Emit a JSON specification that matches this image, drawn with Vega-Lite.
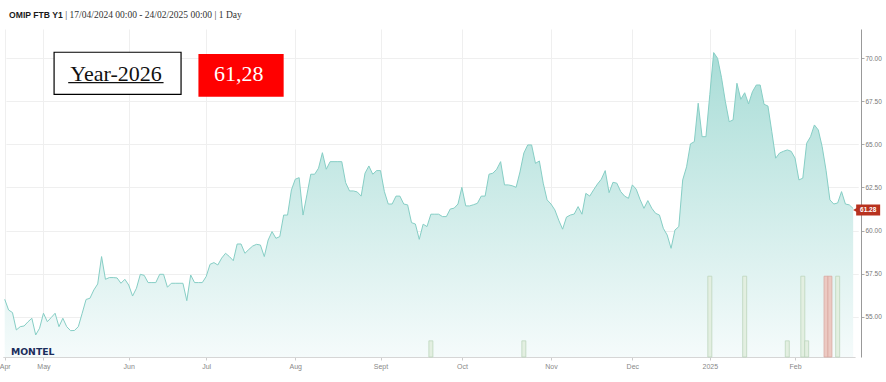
{
  "$schema": "https://vega.github.io/schema/vega-lite/v6.json",
  "width": 861,
  "height": 328,
  "autosize": {"type": "none"},
  "padding": {"left": 0, "top": 29, "right": 25, "bottom": 25},
  "background": "white",
  "config": {"view": {"stroke": null}, "font": "Liberation Sans"},
  "datasets": {
    "prices": [
      {"date": "2024-04-17", "price": 56.01}, {"date": "2024-04-18", "price": 55.39}, {"date": "2024-04-19", "price": 55.24}, {"date": "2024-04-22", "price": 54.23}, {"date": "2024-04-23", "price": 54.42}, {"date": "2024-04-24", "price": 54.46}, {"date": "2024-04-25", "price": 54.7}, {"date": "2024-04-26", "price": 54.91}, {"date": "2024-04-29", "price": 53.94}, {"date": "2024-04-30", "price": 54.33},
      {"date": "2024-05-02", "price": 55.2}, {"date": "2024-05-03", "price": 54.71}, {"date": "2024-05-06", "price": 54.95}, {"date": "2024-05-07", "price": 55.2}, {"date": "2024-05-08", "price": 54.42}, {"date": "2024-05-09", "price": 54.91}, {"date": "2024-05-10", "price": 54.42}, {"date": "2024-05-13", "price": 54.19}, {"date": "2024-05-14", "price": 54.2}, {"date": "2024-05-15", "price": 54.42}, {"date": "2024-05-16", "price": 55.2}, {"date": "2024-05-17", "price": 56.0}, {"date": "2024-05-20", "price": 56.07}, {"date": "2024-05-21", "price": 56.55}, {"date": "2024-05-22", "price": 56.9}, {"date": "2024-05-23", "price": 58.49}, {"date": "2024-05-24", "price": 57.17}, {"date": "2024-05-27", "price": 57.27}, {"date": "2024-05-28", "price": 57.27}, {"date": "2024-05-29", "price": 57.25}, {"date": "2024-05-30", "price": 56.94}, {"date": "2024-05-31", "price": 57.17},
      {"date": "2024-06-03", "price": 56.84}, {"date": "2024-06-04", "price": 56.2}, {"date": "2024-06-05", "price": 56.65}, {"date": "2024-06-06", "price": 57.46}, {"date": "2024-06-07", "price": 57.4}, {"date": "2024-06-10", "price": 56.98}, {"date": "2024-06-11", "price": 56.98}, {"date": "2024-06-12", "price": 56.98}, {"date": "2024-06-13", "price": 57.46}, {"date": "2024-06-14", "price": 57.46}, {"date": "2024-06-17", "price": 56.71}, {"date": "2024-06-18", "price": 56.94}, {"date": "2024-06-19", "price": 56.94}, {"date": "2024-06-20", "price": 56.94}, {"date": "2024-06-21", "price": 56.94}, {"date": "2024-06-24", "price": 55.93}, {"date": "2024-06-25", "price": 57.42}, {"date": "2024-06-26", "price": 56.98}, {"date": "2024-06-27", "price": 56.98}, {"date": "2024-06-28", "price": 56.98},
      {"date": "2024-07-01", "price": 57.33}, {"date": "2024-07-02", "price": 58.04}, {"date": "2024-07-03", "price": 58.14}, {"date": "2024-07-04", "price": 58.0}, {"date": "2024-07-05", "price": 58.4}, {"date": "2024-07-08", "price": 58.68}, {"date": "2024-07-09", "price": 58.49}, {"date": "2024-07-10", "price": 58.25}, {"date": "2024-07-11", "price": 59.22}, {"date": "2024-07-12", "price": 59.22}, {"date": "2024-07-15", "price": 58.68}, {"date": "2024-07-16", "price": 58.9}, {"date": "2024-07-17", "price": 59.1}, {"date": "2024-07-18", "price": 59.2}, {"date": "2024-07-19", "price": 59.16}, {"date": "2024-07-22", "price": 58.49}, {"date": "2024-07-23", "price": 59.45}, {"date": "2024-07-24", "price": 59.94}, {"date": "2024-07-25", "price": 59.55}, {"date": "2024-07-26", "price": 59.65}, {"date": "2024-07-29", "price": 60.9}, {"date": "2024-07-30", "price": 60.9}, {"date": "2024-07-31", "price": 62.36},
      {"date": "2024-08-01", "price": 62.98}, {"date": "2024-08-02", "price": 63.07}, {"date": "2024-08-05", "price": 60.9}, {"date": "2024-08-06", "price": 62.07}, {"date": "2024-08-07", "price": 63.27}, {"date": "2024-08-08", "price": 63.27}, {"date": "2024-08-09", "price": 63.62}, {"date": "2024-08-12", "price": 64.52}, {"date": "2024-08-13", "price": 63.56}, {"date": "2024-08-14", "price": 64.0}, {"date": "2024-08-15", "price": 64.0}, {"date": "2024-08-16", "price": 64.0}, {"date": "2024-08-19", "price": 64.0}, {"date": "2024-08-20", "price": 62.78}, {"date": "2024-08-21", "price": 62.3}, {"date": "2024-08-22", "price": 62.3}, {"date": "2024-08-23", "price": 62.24}, {"date": "2024-08-26", "price": 62.0}, {"date": "2024-08-27", "price": 63.33}, {"date": "2024-08-28", "price": 63.75}, {"date": "2024-08-29", "price": 63.27}, {"date": "2024-08-30", "price": 63.48},
      {"date": "2024-09-02", "price": 63.48}, {"date": "2024-09-03", "price": 62.26}, {"date": "2024-09-04", "price": 61.54}, {"date": "2024-09-05", "price": 61.54}, {"date": "2024-09-06", "price": 62.0}, {"date": "2024-09-09", "price": 62.0}, {"date": "2024-09-10", "price": 61.54}, {"date": "2024-09-11", "price": 61.49}, {"date": "2024-09-12", "price": 60.46}, {"date": "2024-09-13", "price": 60.38}, {"date": "2024-09-16", "price": 59.49}, {"date": "2024-09-17", "price": 60.37}, {"date": "2024-09-18", "price": 60.23}, {"date": "2024-09-19", "price": 60.95}, {"date": "2024-09-20", "price": 60.95}, {"date": "2024-09-23", "price": 60.95}, {"date": "2024-09-24", "price": 60.81}, {"date": "2024-09-25", "price": 60.81}, {"date": "2024-09-26", "price": 61.25}, {"date": "2024-09-27", "price": 61.3}, {"date": "2024-09-30", "price": 61.54},
      {"date": "2024-10-01", "price": 62.51}, {"date": "2024-10-02", "price": 61.43}, {"date": "2024-10-03", "price": 61.43}, {"date": "2024-10-04", "price": 61.5}, {"date": "2024-10-07", "price": 61.58}, {"date": "2024-10-08", "price": 62.0}, {"date": "2024-10-09", "price": 62.0}, {"date": "2024-10-10", "price": 63.27}, {"date": "2024-10-11", "price": 63.33}, {"date": "2024-10-14", "price": 63.56}, {"date": "2024-10-15", "price": 64.0}, {"date": "2024-10-16", "price": 62.65}, {"date": "2024-10-17", "price": 62.65}, {"date": "2024-10-18", "price": 62.6}, {"date": "2024-10-21", "price": 62.51}, {"date": "2024-10-22", "price": 63.4}, {"date": "2024-10-23", "price": 64.5}, {"date": "2024-10-24", "price": 64.97}, {"date": "2024-10-25", "price": 64.97}, {"date": "2024-10-28", "price": 63.9}, {"date": "2024-10-29", "price": 64.04}, {"date": "2024-10-30", "price": 62.75}, {"date": "2024-10-31", "price": 61.78},
      {"date": "2024-11-01", "price": 61.54}, {"date": "2024-11-04", "price": 61.2}, {"date": "2024-11-05", "price": 60.6}, {"date": "2024-11-06", "price": 60.08}, {"date": "2024-11-07", "price": 60.78}, {"date": "2024-11-08", "price": 60.9}, {"date": "2024-11-11", "price": 60.96}, {"date": "2024-11-12", "price": 61.39}, {"date": "2024-11-13", "price": 60.95}, {"date": "2024-11-14", "price": 62.16}, {"date": "2024-11-15", "price": 62.0}, {"date": "2024-11-18", "price": 62.36}, {"date": "2024-11-19", "price": 62.7}, {"date": "2024-11-20", "price": 62.98}, {"date": "2024-11-21", "price": 63.48}, {"date": "2024-11-22", "price": 62.2}, {"date": "2024-11-25", "price": 62.8}, {"date": "2024-11-26", "price": 62.75}, {"date": "2024-11-27", "price": 62.26}, {"date": "2024-11-28", "price": 62.0}, {"date": "2024-11-29", "price": 61.87},
      {"date": "2024-12-02", "price": 62.65}, {"date": "2024-12-03", "price": 62.4}, {"date": "2024-12-04", "price": 61.8}, {"date": "2024-12-05", "price": 61.29}, {"date": "2024-12-06", "price": 61.74}, {"date": "2024-12-09", "price": 61.3}, {"date": "2024-12-10", "price": 61.0}, {"date": "2024-12-11", "price": 60.9}, {"date": "2024-12-12", "price": 60.13}, {"date": "2024-12-13", "price": 59.74}, {"date": "2024-12-16", "price": 58.97}, {"date": "2024-12-17", "price": 60.03}, {"date": "2024-12-18", "price": 60.23}, {"date": "2024-12-19", "price": 62.94}, {"date": "2024-12-20", "price": 63.7}, {"date": "2024-12-23", "price": 65.03}, {"date": "2024-12-24", "price": 65.16}, {"date": "2024-12-27", "price": 67.39}, {"date": "2024-12-30", "price": 65.45}, {"date": "2024-12-31", "price": 65.45},
      {"date": "2025-01-02", "price": 67.9}, {"date": "2025-01-03", "price": 70.33}, {"date": "2025-01-06", "price": 70.0}, {"date": "2025-01-07", "price": 68.9}, {"date": "2025-01-08", "price": 67.5}, {"date": "2025-01-09", "price": 66.32}, {"date": "2025-01-10", "price": 66.42}, {"date": "2025-01-13", "price": 68.55}, {"date": "2025-01-14", "price": 67.62}, {"date": "2025-01-15", "price": 68.0}, {"date": "2025-01-16", "price": 67.35}, {"date": "2025-01-17", "price": 68.06}, {"date": "2025-01-20", "price": 68.45}, {"date": "2025-01-21", "price": 68.45}, {"date": "2025-01-22", "price": 67.33}, {"date": "2025-01-23", "price": 67.23}, {"date": "2025-01-24", "price": 65.74}, {"date": "2025-01-27", "price": 64.2}, {"date": "2025-01-28", "price": 64.5}, {"date": "2025-01-29", "price": 64.6}, {"date": "2025-01-30", "price": 64.68}, {"date": "2025-01-31", "price": 64.6},
      {"date": "2025-02-03", "price": 64.2}, {"date": "2025-02-04", "price": 62.94}, {"date": "2025-02-05", "price": 63.04}, {"date": "2025-02-06", "price": 65.07}, {"date": "2025-02-07", "price": 65.45}, {"date": "2025-02-10", "price": 66.13}, {"date": "2025-02-11", "price": 65.84}, {"date": "2025-02-12", "price": 64.87}, {"date": "2025-02-13", "price": 63.5}, {"date": "2025-02-14", "price": 61.78}, {"date": "2025-02-17", "price": 61.54}, {"date": "2025-02-18", "price": 61.6}, {"date": "2025-02-19", "price": 62.26}, {"date": "2025-02-20", "price": 61.54}, {"date": "2025-02-21", "price": 61.49}, {"date": "2025-02-24", "price": 61.28}
    ],
    "volumes": [
      {"date": "2024-09-19", "volume": 1, "direction": "up"},
      {"date": "2024-10-23", "volume": 1, "direction": "up"},
      {"date": "2025-01-02", "volume": 5, "direction": "up"},
      {"date": "2025-01-15", "volume": 5, "direction": "up"},
      {"date": "2025-01-30", "volume": 1, "direction": "up"},
      {"date": "2025-02-05", "volume": 5, "direction": "up"},
      {"date": "2025-02-06", "volume": 1, "direction": "up"},
      {"date": "2025-02-13", "volume": 5, "direction": "down"},
      {"date": "2025-02-14", "volume": 5, "direction": "down"},
      {"date": "2025-02-18", "volume": 5, "direction": "up"}
    ]
  },
  "layer": [
    {
      "data": {"name": "prices"},
      "mark": {
        "type": "area",
        "fill": {"x1": 0, "y1": 0, "x2": 0, "y2": 1, "gradient": "linear", "stops": [{"offset": 0, "color": "#a9ddd7"}, {"offset": 1, "color": "#f5fbfb"}]}
      },
      "encoding": {
        "x": {
          "field": "date", "type": "ordinal",
          "scale": {"type": "point", "range": [2.78, 855.1]},
          "axis": {
            "title": null,
            "values": ["2024-04-17", "2024-05-02", "2024-06-03", "2024-07-01", "2024-08-01", "2024-09-02", "2024-10-01", "2024-11-01", "2024-12-02", "2025-01-02", "2025-02-03"],
            "labelExpr": "datum.value == '2025-01-02' ? '2025' : ['Jan','Feb','Mar','Apr','May','Jun','Jul','Aug','Sept','Oct','Nov','Dec'][toNumber(substring(datum.value, 5, 7)) - 1]",
            "labelAngle": 0, "labelFontSize": 7, "labelColor": "#888", "labelFont": "Liberation Sans",
            "labelPadding": 2, "labelOverlap": false, "labelFlush": false, "labelBound": false,
            "tickSize": 3, "tickColor": "#cccccc", "domainColor": "#d6d6d6",
            "grid": true, "gridColor": "#efefef"
          }
        },
        "y": {
          "field": "price", "type": "quantitative",
          "scale": {"domain": [52.66, 71.7], "zero": false, "nice": false},
          "axis": {
            "orient": "right", "title": null,
            "values": [55, 57.5, 60, 62.5, 65, 67.5, 70], "format": ".2f",
            "labelFontSize": 6.5, "labelColor": "#777", "labelFont": "Liberation Sans", "labelPadding": 1,
            "tickSize": 3, "tickColor": "#aaaaaa", "domainColor": "#999999",
            "grid": true, "gridColor": "#efefef"
          }
        },
        "y2": {"datum": 52.66}
      }
    },
    {
      "data": {"name": "volumes"},
      "mark": {"type": "bar", "size": 4, "strokeWidth": 0.8},
      "encoding": {
        "x": {"field": "date", "type": "ordinal"},
        "y": {"field": "volume", "type": "quantitative", "scale": {"domain": [0, 20.3]}, "axis": null},
        "fill": {"field": "direction", "type": "nominal", "scale": {"domain": ["up", "down"], "range": ["#e3efe1", "#ecc9c2"]}, "legend": null},
        "stroke": {"field": "direction", "type": "nominal", "scale": {"domain": ["up", "down"], "range": ["#bdd5bd", "#d9aaa2"]}, "legend": null}
      }
    },
    {
      "data": {"name": "prices"},
      "mark": {"type": "line", "stroke": "#86cec5", "strokeWidth": 1},
      "encoding": {
        "x": {"field": "date", "type": "ordinal"},
        "y": {"field": "price", "type": "quantitative", "scale": {"domain": [52.66, 71.7], "zero": false, "nice": false}, "axis": null}
      }
    },
    {
      "data": {"values": [{}]},
      "mark": {"type": "text", "text": "OMIP FTB Y1", "font": "Liberation Sans", "fontWeight": "bold", "fontSize": 8.6, "fill": "#1a1a1a", "align": "left", "baseline": "middle", "dx": 0.5},
      "encoding": {
        "x": {"datum": "2024-04-18", "type": "ordinal"},
        "y": {"datum": 72.51, "type": "quantitative", "scale": {"domain": [52.66, 71.7], "zero": false, "nice": false}, "axis": null}
      }
    },
    {
      "data": {"values": [{}]},
      "mark": {"type": "text", "text": "| 17/04/2024 00:00 - 24/02/2025 00:00 | 1 Day", "font": "Liberation Serif", "fontSize": 9.5, "fill": "#333333", "align": "left", "baseline": "middle", "dx": 2.5},
      "encoding": {
        "x": {"datum": "2024-05-09", "type": "ordinal"},
        "y": {"datum": 72.51, "type": "quantitative", "scale": {"domain": [52.66, 71.7], "zero": false, "nice": false}, "axis": null}
      }
    },
    {
      "data": {"values": [{}]},
      "mark": {"type": "rect", "fill": "white", "stroke": "black", "strokeWidth": 1.2, "xOffset": -1, "x2Offset": 2},
      "encoding": {
        "x": {"datum": "2024-05-07", "type": "ordinal"},
        "x2": {"datum": "2024-06-20"},
        "y": {"datum": 70.35, "type": "quantitative", "scale": {"domain": [52.66, 71.7], "zero": false, "nice": false}, "axis": null},
        "y2": {"datum": 67.91}
      }
    },
    {
      "data": {"values": [{}]},
      "mark": {"type": "text", "text": "Year-2026", "font": "Liberation Serif", "fontSize": 22, "fill": "#111111", "align": "center", "baseline": "alphabetic", "dx": -1},
      "encoding": {
        "x": {"datum": "2024-05-29", "type": "ordinal"},
        "y": {"datum": 68.7, "type": "quantitative", "scale": {"domain": [52.66, 71.7], "zero": false, "nice": false}, "axis": null}
      }
    },
    {
      "data": {"values": [{}]},
      "mark": {"type": "rule", "stroke": "#111111", "strokeWidth": 1.2, "xOffset": 1.5},
      "encoding": {
        "x": {"datum": "2024-05-10", "type": "ordinal"},
        "x2": {"datum": "2024-06-14"},
        "y": {"datum": 68.59, "type": "quantitative", "scale": {"domain": [52.66, 71.7], "zero": false, "nice": false}, "axis": null}
      }
    },
    {
      "data": {"values": [{}]},
      "mark": {"type": "rect", "fill": "#ff0000"},
      "encoding": {
        "x": {"datum": "2024-06-27", "type": "ordinal"},
        "x2": {"datum": "2024-07-29"},
        "y": {"datum": 70.25, "type": "quantitative", "scale": {"domain": [52.66, 71.7], "zero": false, "nice": false}, "axis": null},
        "y2": {"datum": 67.77}
      }
    },
    {
      "data": {"values": [{}]},
      "mark": {"type": "text", "text": "61,28", "font": "Liberation Serif", "fontSize": 22, "fill": "white", "align": "center", "baseline": "alphabetic", "dx": 1.7},
      "encoding": {
        "x": {"datum": "2024-07-11", "type": "ordinal"},
        "y": {"datum": 68.66, "type": "quantitative", "scale": {"domain": [52.66, 71.7], "zero": false, "nice": false}, "axis": null}
      }
    },
    {
      "data": {"values": [{}]},
      "mark": {"type": "text", "text": "MONTEL", "font": "DejaVu Sans", "fontWeight": "bold", "fontSize": 9.3, "fill": "#1b2d5c", "align": "left", "baseline": "alphabetic", "dx": -1.5, "letterSpacing": 0.3},
      "encoding": {
        "x": {"datum": "2024-04-19", "type": "ordinal"},
        "y": {"datum": 52.79, "type": "quantitative", "scale": {"domain": [52.66, 71.7], "zero": false, "nice": false}, "axis": null}
      }
    },
    {
      "data": {"values": [{}]},
      "mark": {"type": "point", "shape": "triangle-left", "size": 22, "filled": true, "fill": "#b8321f", "opacity": 1, "xOffset": 2, "yOffset": 1.5},
      "encoding": {
        "x": {"datum": "2025-02-24", "type": "ordinal"},
        "y": {"datum": 61.28, "type": "quantitative", "scale": {"domain": [52.66, 71.7], "zero": false, "nice": false}, "axis": null}
      }
    },
    {
      "data": {"values": [{}]},
      "mark": {"type": "rect", "fill": "#b8321f", "xOffset": 3, "x2Offset": 27, "yOffset": -4, "y2Offset": 7},
      "encoding": {
        "x": {"datum": "2025-02-24", "type": "ordinal"},
        "x2": {"datum": "2025-02-24"},
        "y": {"datum": 61.28, "type": "quantitative", "scale": {"domain": [52.66, 71.7], "zero": false, "nice": false}, "axis": null},
        "y2": {"datum": 61.28}
      }
    },
    {
      "data": {"values": [{}]},
      "mark": {"type": "text", "text": "61.28", "font": "Liberation Sans", "fontWeight": "bold", "fontSize": 6.5, "fill": "white", "align": "center", "baseline": "middle", "dx": 15, "dy": 1.5},
      "encoding": {
        "x": {"datum": "2025-02-24", "type": "ordinal"},
        "y": {"datum": 61.28, "type": "quantitative", "scale": {"domain": [52.66, 71.7], "zero": false, "nice": false}, "axis": null}
      }
    }
  ],
  "resolve": {"scale": {"y": "independent"}}
}
